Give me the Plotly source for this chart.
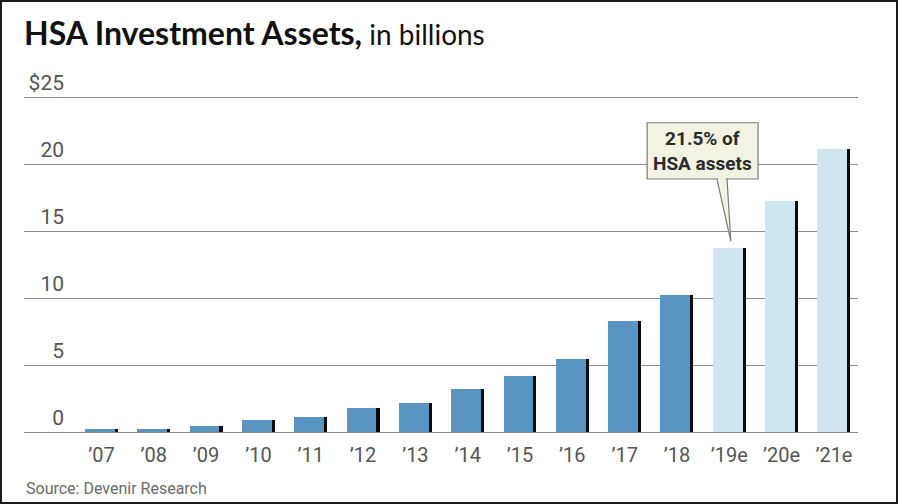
import plotly.graph_objects as go

years = ["’07", "’08", "’09", "’10", "’11", "’12", "’13", "’14", "’15", "’16",
         "’17", "’18", "’19e", "’20e", "’21e"]
assets = [0.22, 0.25, 0.42, 0.92, 1.12, 1.81, 2.2, 3.21, 4.18, 5.47,
          8.29, 10.25, 13.75, 17.24, 21.1]
estimate = [False] * 12 + [True] * 3

y_ticks = [0, 5, 10, 15, 20, 25]
y_labels = ["0", "5", "10", "15", "20", "$25"]

callout_idx = 12  # '19e
callout_text = "<b>21.5% of<br>HSA assets</b>"

x_pos = list(range(len(years)))
bar_colors = ["#cfe6f0" if e else "#5a95c2" for e in estimate]

fig = go.Figure()

# black drop shadow on the right side of each bar
fig.add_trace(go.Bar(x=x_pos, y=assets, width=0.63, offset=-0.315,
                     marker=dict(color="#0a0a0a", line=dict(width=0)),
                     hoverinfo="skip", showlegend=False))
fig.add_trace(go.Bar(x=x_pos, y=assets, width=0.57, offset=-0.315,
                     marker=dict(color=bar_colors, line=dict(width=0)),
                     showlegend=False))
# dummy trace so the label axis gets drawn
fig.add_trace(go.Scatter(x=[0], y=[0], yaxis="y2", mode="markers", marker=dict(opacity=0),
                         hoverinfo="skip", showlegend=False))

# callout box + pointer
tip_x = callout_idx + 0.03
tip_y = assets[callout_idx] + 0.48
fig.add_shape(type="rect", xref="x", yref="y",
              x0=callout_idx - 1.57, x1=callout_idx + 0.55, y0=18.88, y1=23.08,
              fillcolor="#f3f3e4", line=dict(color="#7a7a7a", width=1.2), layer="above")
fig.add_shape(type="path", xref="x", yref="y",
              path=f"M {callout_idx - 0.24},18.95 L {tip_x},{tip_y} L {callout_idx - 0.045},18.95",
              fillcolor="#f3f3e4", line=dict(color="#7a7a7a", width=1.2), layer="above")
fig.add_annotation(x=callout_idx - 0.51, y=20.98, xref="x", yref="y", text=callout_text,
                   showarrow=False, font=dict(family="Roboto", size=19, color="#2a2a2a"),
                   align="center")

# frame round the graphic (paper units: plot area is 834 x 339 px)
fig.add_shape(type="rect", xref="paper", yref="paper",
              x0=-23 / 834, x1=873 / 834, y0=-71 / 339, y1=1 + 92 / 339,
              line=dict(color="#1a1a1a", width=2), fillcolor="rgba(0,0,0,0)", layer="above")

fig.add_annotation(x=0, y=-56 / 339, xref="paper", yref="paper", xanchor="left", yanchor="middle",
                   text="Source: Devenir Research", showarrow=False,
                   font=dict(family="Roboto", size=16, color="#6a6a6a"))

fig.update_layout(
    width=898, height=504,
    margin=dict(l=24, r=40, t=93, b=72),
    paper_bgcolor="white", plot_bgcolor="white",
    barmode="overlay", bargap=0,
    title=dict(text="<b><span style='font-size:32px'>HSA Investment Assets,</span></b> in billions",
               x=0, xref="paper", xanchor="left", y=1 - 25 / 504, yanchor="top",
               font=dict(family="Lato", size=28, color="#111111")),
    xaxis=dict(range=[-1.48, 14.46], tickvals=x_pos, ticktext=years, showgrid=False,
               zeroline=False, showline=False, ticks="outside", ticklen=5, tickcolor="rgba(0,0,0,0)",
               tickfont=dict(family="Roboto", size=20, color="#555555")),
    yaxis=dict(range=[0, 25.3], tickvals=y_ticks, showticklabels=False, showgrid=True,
               gridcolor="#8c8c8c", gridwidth=1.3, zeroline=True, zerolinecolor="#8c8c8c",
               zerolinewidth=1.3, ticks=""),
    yaxis2=dict(range=[0, 25.3], overlaying="y", anchor="free", position=40 / 834, side="left",
                tickvals=y_ticks, ticktext=y_labels, showgrid=False, zeroline=False,
                showline=False, ticks="", ticklabelposition="outside top",
                tickfont=dict(family="Roboto", size=21, color="#555555")),
)

fig.write_html("out.html", config={"displayModeBar": False},
               post_script="document.body.style.margin='0';")
